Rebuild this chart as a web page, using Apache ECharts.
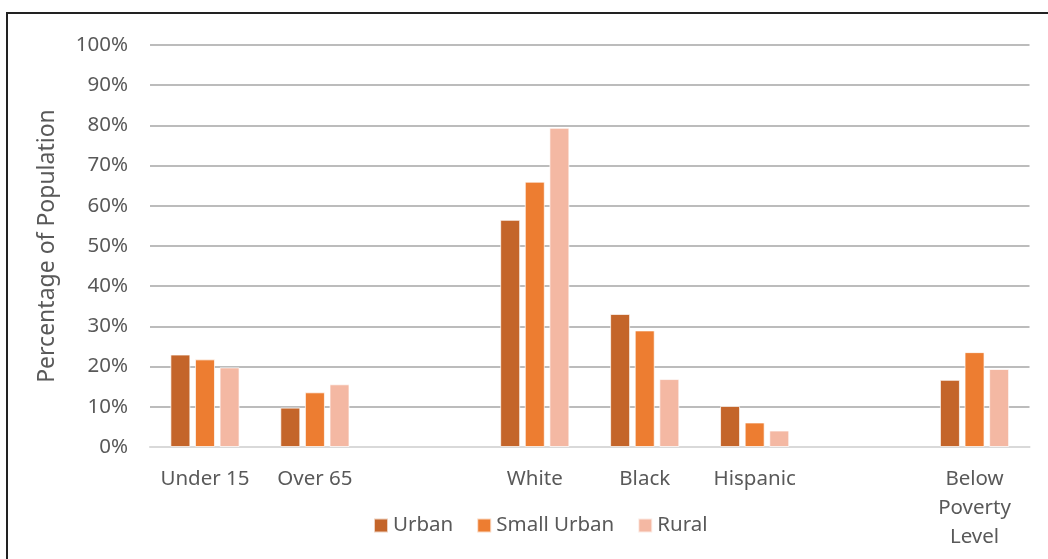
<!DOCTYPE html>
<html><head><meta charset="utf-8">
<script src="https://cdn.jsdelivr.net/npm/echarts@6/dist/echarts.min.js"></script>
<style>html,body{margin:0;padding:0;background:#fff}#c{width:1048px;height:559px}</style>
</head><body><div id="c"></div>
<script>
const categories = ['Under 15', 'Over 65', '', 'White', 'Black', 'Hispanic', '', 'Below\nPoverty\nLevel'];
const urban      = [23.0, 9.8, null, 56.5, 33.1, 10.2, null, 16.7];
const smallUrban = [21.8, 13.6, null, 66.0, 29.0, 6.1, null, 23.6];
const rural      = [19.8, 15.6, null, 79.4, 16.9, 4.1, null, 19.4];
const yTicks = [0, 10, 20, 30, 40, 50, 60, 70, 80, 90, 100];

const font = 'Noto Sans';
const chart = echarts.init(document.getElementById('c'), null, {renderer: 'canvas'});
function barSeries(name, data, color) {
  return {name: name, type: 'bar', data: data, barWidth: 20, barGap: '23%',
    itemStyle: {color: color, borderColor: 'rgba(255,255,255,0.7)', borderWidth: 1}};
}
chart.setOption({
  animation: false,
  graphic: [{type: 'rect', shape: {x: 7, y: 13, width: 1200, height: 700}, style: {fill: 'none', stroke: '#222', lineWidth: 2}}],
  grid: {left: 150, right: 18.5, top: 45, bottom: 112},
  legend: {
    left: 373, top: 515, padding: 0, itemWidth: 14, itemHeight: 14, itemGap: 23,
    icon: 'rect',
    textStyle: {fontFamily: font, fontSize: 20.5, lineHeight: 20, color: '#595959'},
    data: ['Urban', 'Small Urban', 'Rural']
  },
  xAxis: {
    type: 'category', data: categories,
    axisLine: {lineStyle: {color: '#D9D9D9', width: 2}},
    axisTick: {show: false},
    axisLabel: {interval: 0, fontFamily: font, fontSize: 20.5, color: '#595959', margin: 17.5, lineHeight: 29}
  },
  yAxis: {
    type: 'value', min: yTicks[0], max: yTicks[yTicks.length - 1], interval: 10,
    name: 'Percentage of Population', nameLocation: 'middle', nameGap: 91,
    nameTextStyle: {fontFamily: font, fontSize: 23, color: '#595959'},
    axisLine: {show: false}, axisTick: {show: false},
    splitLine: {lineStyle: {color: '#A6A6A6', width: 1.5}},
    axisLabel: {fontFamily: font, fontSize: 20.5, color: '#595959', margin: 22, formatter: v => v + '%'}
  },
  series: [
    barSeries('Urban', urban, '#C4652A'),
    barSeries('Small Urban', smallUrban, '#ED7D31'),
    barSeries('Rural', rural, '#F4B8A3')
  ]
});
</script></body></html>
